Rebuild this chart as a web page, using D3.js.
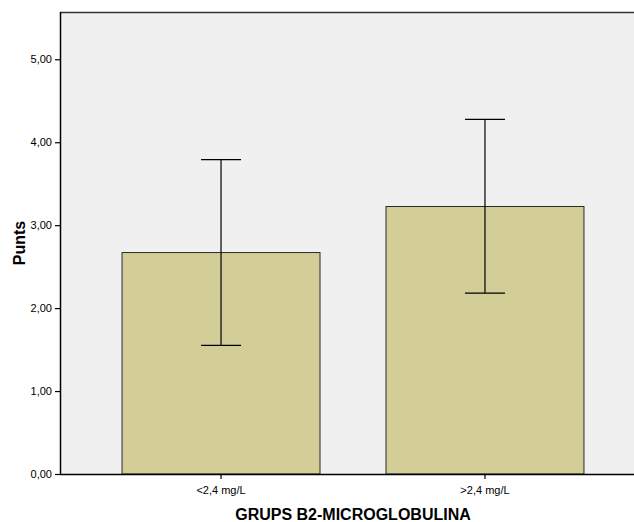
<!DOCTYPE html>
<html>
<head>
<meta charset="utf-8">
<script src="https://cdn.jsdelivr.net/npm/d3@7"></script>
<style>
  html, body { margin: 0; padding: 0; background: #ffffff; }
  svg { display: block; font-family: "Liberation Sans", Arial, sans-serif; }
</style>
</head>
<body>
<svg id="chart" width="634" height="522"></svg>
<script>
// Mean score per B2-microglobulin group, with error bar limits
const categories = ["<2,4 mg/L", ">2,4 mg/L"];
const means = [2.67, 3.225];
const upper = [3.79, 4.275];
const lower = [1.55, 2.18];
const yTicks = [0, 1, 2, 3, 4, 5];

const svg = d3.select("#chart");
const plotLeft = 60, plotTop = 12, plotBottom = 474, plotRight = 646;

const x = d3.scaleBand()
  .domain(categories)
  .range([plotLeft, plotRight])
  .paddingInner(0.25)
  .paddingOuter(0.235);

const y = d3.scaleLinear().domain([0, 5.57]).range([plotBottom, plotTop]);

// plot background
svg.append("rect")
  .attr("x", plotLeft).attr("y", plotTop)
  .attr("width", plotRight - plotLeft).attr("height", plotBottom - plotTop)
  .attr("fill", "#f0f0f0");

// frame top line
svg.append("line")
  .attr("x1", plotLeft).attr("x2", plotRight)
  .attr("y1", plotTop + 0.5).attr("y2", plotTop + 0.5)
  .attr("stroke", "#333").attr("stroke-width", 1.5);

// bars
svg.selectAll("rect.bar")
  .data(categories)
  .join("rect")
  .attr("class", "bar")
  .attr("x", d => x(d))
  .attr("y", (d, i) => y(means[i]))
  .attr("width", x.bandwidth())
  .attr("height", (d, i) => plotBottom - y(means[i]))
  .attr("fill", "#d3ce98")
  .attr("stroke", "#2a2a2a")
  .attr("stroke-width", 1);

// error bars
const capHalf = 20;
const eb = svg.selectAll("g.err").data(categories).join("g").attr("class", "err");
eb.append("line")
  .attr("x1", d => x(d) + x.bandwidth() / 2)
  .attr("x2", d => x(d) + x.bandwidth() / 2)
  .attr("y1", (d, i) => y(upper[i]))
  .attr("y2", (d, i) => y(lower[i]))
  .attr("stroke", "#000").attr("stroke-width", 1.2);
eb.append("line")
  .attr("x1", d => x(d) + x.bandwidth() / 2 - capHalf)
  .attr("x2", d => x(d) + x.bandwidth() / 2 + capHalf)
  .attr("y1", (d, i) => y(upper[i]))
  .attr("y2", (d, i) => y(upper[i]))
  .attr("stroke", "#000").attr("stroke-width", 1.2);
eb.append("line")
  .attr("x1", d => x(d) + x.bandwidth() / 2 - capHalf)
  .attr("x2", d => x(d) + x.bandwidth() / 2 + capHalf)
  .attr("y1", (d, i) => y(lower[i]))
  .attr("y2", (d, i) => y(lower[i]))
  .attr("stroke", "#000").attr("stroke-width", 1.2);

// y axis
const fmt = d => d.toFixed(2).replace(".", ",");
const yAxis = svg.append("g")
  .attr("transform", `translate(${plotLeft},0)`)
  .call(d3.axisLeft(y).tickValues(yTicks).tickFormat(fmt).tickSize(5).tickPadding(3));
yAxis.select(".domain").attr("stroke", "#000").attr("stroke-width", 1.5)
  .attr("d", `M0.5,${plotTop}V${plotBottom}`);
yAxis.selectAll(".tick line").attr("stroke", "#000").attr("stroke-width", 1.2);
yAxis.selectAll("text").attr("font-size", 11).attr("fill", "#000")
  .attr("font-family", "Liberation Sans, Arial, sans-serif");

// x axis
const xAxis = svg.append("g")
  .attr("transform", `translate(0,${plotBottom})`)
  .call(d3.axisBottom(x).tickSize(5).tickPadding(7));
xAxis.select(".domain").attr("stroke", "#000").attr("stroke-width", 1.5)
  .attr("d", `M${plotLeft},0.5H${plotRight}`);
xAxis.selectAll(".tick line").attr("stroke", "#000").attr("stroke-width", 1.2);
xAxis.selectAll("text").attr("font-size", 11).attr("fill", "#000")
  .attr("font-family", "Liberation Sans, Arial, sans-serif");

// axis titles
svg.append("text")
  .attr("x", (plotLeft + plotRight) / 2).attr("y", 520)
  .attr("text-anchor", "middle")
  .attr("font-size", 16).attr("font-weight", "bold")
  .text("GRUPS B2-MICROGLOBULINA");

svg.append("text")
  .attr("transform", `translate(25,${(plotTop + plotBottom) / 2}) rotate(-90)`)
  .attr("text-anchor", "middle")
  .attr("font-size", 16).attr("font-weight", "bold")
  .text("Punts");
</script>
</body>
</html>
